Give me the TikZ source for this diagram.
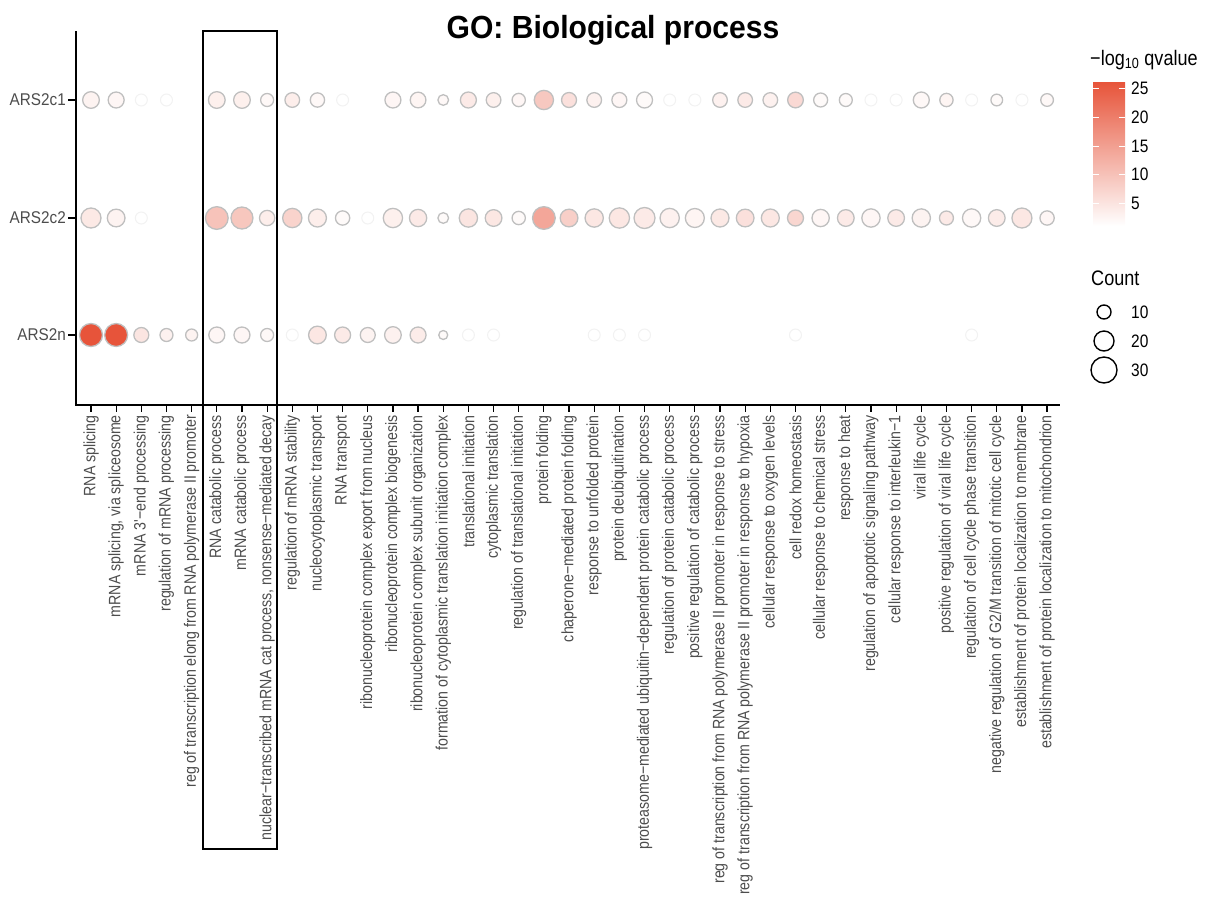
\documentclass[tikz,border=0pt]{standalone}
\usepackage{fontspec}
\setmainfont{Liberation Sans}
\newfontfamily\plotfont[FakeStretch=0.86]{Liberation Sans}
\newfontfamily\rowfont[FakeStretch=0.9]{Liberation Sans}
\newfontfamily\titlefont[FakeStretch=0.94]{Liberation Sans}
\definecolor{qhigh}{RGB}{231,84,58}
\definecolor{axistext}{RGB}{77,77,77}
\tikzset{
  dot/.style={draw=black!25, line width=1.3pt},
  faintdot/.style={draw=black!5, fill=white, line width=1pt},
  keydot/.style={draw=black, fill=white, line width=1.4pt},
  xlab/.style={rotate=90, anchor=east, inner sep=0pt, text=axistext, font=\plotfont\fontsize{16.5}{18}\selectfont},
  ylab/.style={anchor=east, inner sep=0pt, text=axistext, font=\rowfont\fontsize{17}{19}\selectfont},
  keytext/.style={anchor=west, inner sep=0pt, font=\plotfont\fontsize{18}{20}\selectfont},
  keytitle/.style={anchor=west, inner sep=0pt, font=\plotfont\fontsize{21}{24}\selectfont}
}

\begin{document}
\begin{tikzpicture}[x=1pt, y=-1pt]
	\useasboundingbox (0,0) rectangle (1214,897);
	\node[anchor=base, inner sep=0pt, font=\titlefont\bfseries\fontsize{32}{36}\selectfont] (title) at (613,38) {GO: Biological process};
	\begin{scope}
		\foreach \nm/\yy in {ARS2c1/100, ARS2c2/218, ARS2n/335} {
			\coordinate (\nm) at (76,\yy);
			\draw[line width=1.2pt] (\nm) -- ++(-8,0);
			\node[ylab] (lab\nm) at ([xshift=-10pt]\nm) {\nm};
		}
		\foreach \lab [count=\i] in {RNA splicing, {mRNA splicing, via spliceosome}, mRNA 3'−end processing, regulation of mRNA processing, reg of transcription elong from RNA polymerase II promoter, RNA catabolic process, mRNA catabolic process, {nuclear−transcribed mRNA cat process, nonsense−mediated decay}, regulation of mRNA stability, nucleocytoplasmic transport, RNA transport, ribonucleoprotein complex export from nucleus, ribonucleoprotein complex biogenesis, ribonucleoprotein complex subunit organization, formation of cytoplasmic translation initiation complex, translational initiation, cytoplasmic translation, regulation of translational initiation, protein folding, chaperone−mediated protein folding, response to unfolded protein, protein deubiquitination, proteasome−mediated ubiquitin−dependent protein catabolic process, regulation of protein catabolic process, positive regulation of catabolic process, reg of transcription from RNA polymerase II promoter in response to stress, reg of transcription from RNA polymerase II promoter in response to hypoxia, cellular response to oxygen levels, cell redox homeostasis, cellular response to chemical stress, response to heat, regulation of apoptotic signaling pathway, cellular response to interleukin−1, viral life cycle, positive regulation of viral life cycle, regulation of cell cycle phase transition, negative regulation of G2/M transition of mitotic cell cycle, establishment of protein localization to membrane, establishment of protein localization to mitochondrion} {
			\coordinate (col\i) at ({91+(\i-1)*25.16},405);
			\draw[line width=1.2pt] (col\i) -- ++(0,7);
			\node[xlab] (xl\i) at ([yshift=-10pt]col\i) {\lab};
		}
		\foreach \c in {3,4,11,24,25,32,33,36,38}
			\filldraw[faintdot] (col\c |- ARS2c1) circle (6);
		\foreach \c in {3,12}
			\filldraw[faintdot] (col\c |- ARS2c2) circle (6);
		\foreach \c in {9,16,17,21,22,23,29,36}
			\filldraw[faintdot] (col\c |- ARS2n) circle (6);
		\foreach \c/\d/\p in {1/16.7/7, 2/16/5, 6/16.7/9, 7/16.7/9, 8/13/4, 9/14.7/10, 10/14.3/4, 13/16/5, 14/15.7/6, 15/10.7/4, 16/16/12, 17/14.7/9, 18/13.3/5, 19/19.3/32, 20/15/18, 21/14.7/8, 22/15/5, 23/16/3, 26/14.7/8, 27/14.7/12, 28/14.7/8, 29/15.7/22, 30/14/3, 31/13/3, 34/16/4, 35/13.3/6, 37/11.7/3, 39/12.7/4}
			\filldraw[dot, fill=qhigh!\p!white] (col\c |- ARS2c1) circle ({\d/2});
		\foreach \c/\d/\p in {1/20/13, 2/17.7/7, 6/22.7/35, 7/22/33, 8/15.3/10, 9/19.3/26, 10/18/10, 11/14.3/3, 13/19.3/9, 14/17.3/12, 15/10.7/3, 16/18.3/15, 17/16.7/14, 18/13.3/3, 19/22.7/52, 20/17.7/28, 21/18.3/14, 22/20.3/14, 23/21/12, 24/19.3/8, 25/19/6, 26/18/13, 27/17.7/18, 28/18/14, 29/16/24, 30/17.3/5, 31/16.7/12, 32/18.3/5, 33/16.7/12, 34/18.3/7, 35/14/12, 36/18.3/4, 37/16.7/11, 38/20/14, 39/14.3/5}
			\filldraw[dot, fill=qhigh!\p!white] (col\c |- ARS2c2) circle ({\d/2});
		\foreach \c/\d/\p in {1/23/100, 2/23/100, 3/15/15, 4/13/8, 5/12/7, 6/16/5, 7/16/5, 8/13/4, 10/17.7/14, 11/16/12, 12/15/7, 13/16.7/8, 14/16/11, 15/9/3}
			\filldraw[dot, fill=qhigh!\p!white] (col\c |- ARS2n) circle ({\d/2});
		\draw[line width=2pt] (76,31) -- (76,405) -- (1060,405);
		\draw[line width=2pt] (203,31) rectangle (277,849);
	\end{scope}
	\begin{scope}
		\node[keytitle] (qtitle) at (1090,60) {−log\textsubscript{10} qvalue};
		\shade[bottom color=white, top color=qhigh] (1093,82) rectangle (1125,226);
		\foreach \v/\yy in {25/88, 20/117, 15/146, 10/174, 5/203} {
			\draw[white, line width=0.8pt] (1093,\yy) -- ++(6,0) (1125,\yy) -- ++(-6,0);
			\node[keytext] (q\v) at (1131,\yy) {\v};
		}
		\node[keytitle] (ctitle) at (1091,278) {Count};
		\foreach \n/\yy/\d in {10/312/14, 20/341/20, 30/370/26} {
			\filldraw[keydot] (1104,\yy) circle ({\d/2});
			\node[keytext] (n\n) at (1131,\yy) {\n};
		}
	\end{scope}
\end{tikzpicture}
\end{document}
